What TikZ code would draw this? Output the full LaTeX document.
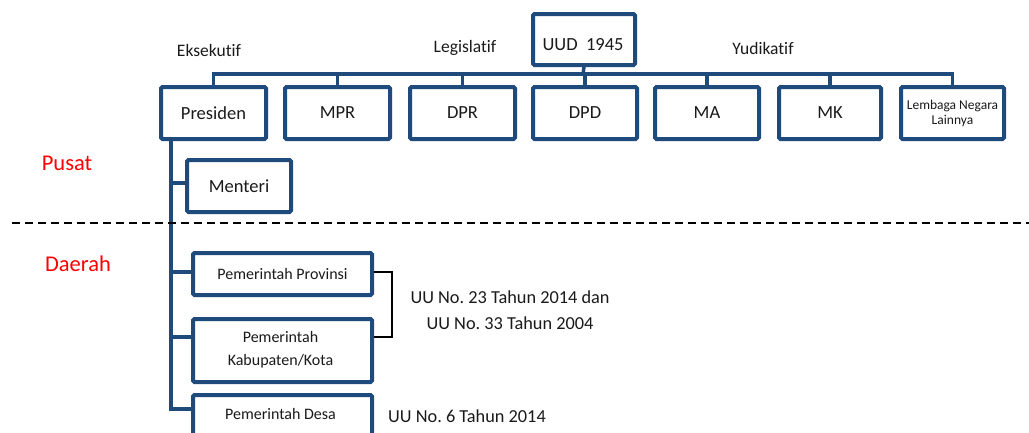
\documentclass[tikz,border=0pt]{standalone}
\usepackage{fontspec}
\setmainfont{Carlito}[Ligatures=NoCommon]
\frenchspacing
\definecolor{boxblue}{HTML}{1F4A7C}
\definecolor{lblred}{HTML}{FF0000}
\definecolor{txt}{HTML}{1A1A1A}
\begin{document}
\begin{tikzpicture}[x=1pt,y=-1pt,every node/.style={text=txt},
  box/.style={draw=boxblue,line width=4pt,rounded corners=1.5pt,fill=white,inner sep=0pt,anchor=north west},
  conn/.style={draw=boxblue,line width=3.5pt},
  bt/.style={font=\fontsize{18.5}{21}\selectfont},
  st/.style={font=\fontsize{16}{23}\selectfont,align=center},
  lbl/.style={font=\fontsize{17.5}{20}\selectfont},
  region/.style={font=\fontsize{22.5}{26}\selectfont,text=lblred},
  law/.style={font=\fontsize{18.3}{26}\selectfont,align=center}]
\useasboundingbox (0,0) rectangle (1029,432);
% top row boxes
\node[box,minimum width=102pt,minimum height=51pt] (uud) at (531,12) {};
\node[bt] at (583,45) {UUD\ \ 1945};
\node[box,minimum width=105pt,minimum height=52pt] (pres) at (159,85) {};
\node[bt] at (pres.center) {Presiden};
\node[box,minimum width=105pt,minimum height=52pt] (mpr) at (283,85) {};
\node[bt] at (mpr.center) {MPR};
\node[box,minimum width=105pt,minimum height=52pt] (dpr) at (408,85) {};
\node[bt] at (dpr.center) {DPR};
\node[box,minimum width=104pt,minimum height=52pt] (dpd) at (531,85) {};
\node[bt] at (dpd.center) {DPD};
\node[box,minimum width=104pt,minimum height=52pt] (ma) at (653,85) {};
\node[bt] at (ma.center) {MA};
\node[box,minimum width=102pt,minimum height=52pt] (mk) at (777,85) {};
\node[bt] at (mk.center) {MK};
\node[box,minimum width=103pt,minimum height=52pt] (lem) at (899,85) {};
\node[font=\fontsize{13.5}{15}\selectfont,align=center] at (lem.center) {Lembaga Negara\\Lainnya};
% category labels
\node[lbl] (eks) at (209,50) {Eksekutif};
\node[lbl] (leg) at (465,48) {Legislatif};
\node[lbl] (yud) at (763,48) {Yudikatif};
% bus
\coordinate (bus) at (583,74);
\draw[conn] (uud.south) -- (bus);
\draw[conn] (pres.north) |- (lem.north |- bus) -- (lem.north);
\foreach \n in {mpr,dpr,dpd,ma,mk} \draw[conn] (\n.north) -- (\n.north |- bus);
% Menteri
\node[box,minimum width=104pt,minimum height=52pt] (men) at (185,158) {};
\node[bt] at (men.center) {Menteri};
% daerah boxes
\node[box,minimum width=179pt,minimum height=42pt] (prov) at (191,251) {};
\node[st] at (prov.center) {Pemerintah Provinsi};
\node[box,minimum width=179pt,minimum height=63pt] (kab) at (191,317) {};
\node[st] at (280.5,350) {Pemerintah\\Kabupaten/Kota};
\node[box,minimum width=179pt,minimum height=60pt] (desa) at (191,393) {};
\node[st] at (280.5,414) {Pemerintah Desa};
% trunk
\coordinate (tk) at (171,137);
\draw[conn] (tk) -- (171,409) -- (desa.west |- 0,409);
\draw[conn] (171,183) -- (men.west |- 0,183);
\draw[conn] (171,272) -- (prov.west |- 0,272);
\draw[conn] (171,337) -- (kab.west |- 0,337);
% bracket
\draw[black,line width=2pt] (prov.east |- 0,272) -- (392,272) -- (392,337) -- (kab.east |- 0,337);
% laws
\node[law] (law1) at (510,310) {UU No. 23 Tahun 2014 dan\\UU No. 33 Tahun 2004};
\node[font=\fontsize{18.3}{21}\selectfont] (law2) at (467,416) {UU No. 6 Tahun 2014};
% divider
\draw[black,line width=2.5pt,dash pattern=on 8pt off 5pt] (12,223) -- (1029,223);
\node[region] (pusat) at (67,163) {Pusat};
\node[region] (daerah) at (78,264) {Daerah};
\end{tikzpicture}
\end{document}
